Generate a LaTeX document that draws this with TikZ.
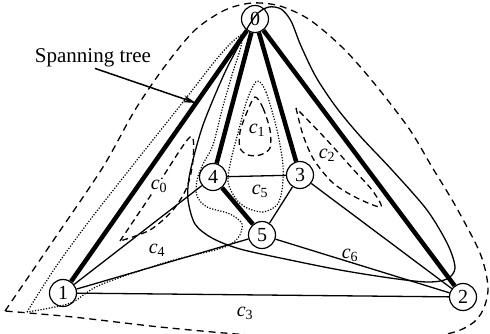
\documentclass[tikz,border=0pt]{standalone}
\usepackage{fontspec}
\setmainfont{Liberation Serif}
\usetikzlibrary{arrows.meta}
\begin{document}
\begin{tikzpicture}[x=1pt,y=-1pt,
  vtx/.style={circle,draw,line width=1.2pt,minimum size=27pt,inner sep=0pt,font=\fontsize{20}{20}\selectfont},
  tree/.style={line width=4.5pt},
  edge/.style={line width=1.3pt},
  cyc/.style={dash pattern=on 6pt off 4pt, line width=1.3pt},
  dots/.style={dash pattern=on 1.2pt off 1.6pt, line width=1.2pt},
  lbl/.style={font=\fontsize{20}{20}\selectfont, inner sep=1pt}]
\useasboundingbox (0,0) rectangle (490,333);
\clip (0,0) rectangle (490,333);

% vertices
\node[vtx] (n0) at (255,19) {0};
\node[vtx] (n1) at (63,293) {1};
\node[vtx] (n2) at (463,297) {2};
\node[vtx] (n3) at (300,175) {3};
\node[vtx] (n4) at (213,177) {4};
\node[vtx] (n5) at (262,235) {5};

% spanning tree edges
\draw[tree] (n0) -- (n1);
\draw[tree] (n0) -- (n4);
\draw[tree] (n0) -- (n3);
\draw[tree] (n0) -- (n2);
\draw[tree] (n4) -- (n5);

% other edges
\draw[edge] (n1) -- (n4);
\draw[edge] (n1) -- (n5);
\draw[edge] (n1) -- (n2);
\draw[edge] (n4) -- (n3);
\draw[edge] (n3) -- (n5);
\draw[edge] (n3) -- (n2);
\draw[edge] (n5) -- (n2);

% outer dashed curve
\draw[dash pattern=on 7pt off 5pt, line width=1.3pt] plot[smooth] coordinates {(5,311) (55,238) (103,167) (135,110) (165,66) (195,30) (225,10) (252,3) (280,6) (310,20) (345,50) (378,88) (410,130) (432,167) (455,205) (480,253) (488,287) (483,310) (470,325) (440,335) (350,340) (250,335) (160,327) (73,317) (5,311)};

% solid closed curve through vertex 0
\draw[edge] plot[smooth cycle] coordinates {(248,27) (258,13) (269,7) (281,9) (291,21) (301,46) (316,77) (336,107) (360,136) (392,170) (427,210) (448,245) (455,268) (447,279) (427,282) (390,278) (340,270) (290,260) (240,249) (212,238) (195,224) (188,200) (189,178) (195,152) (203,125) (215,95) (227,68) (239,45)};

% dotted curve on the left
\draw[dots] plot[smooth] coordinates {(27,312) (55,268) (90,220) (137,160) (187,97) (215,61) (232,42) (244,33)}
  -- plot[smooth] coordinates {(244,33) (240,50) (232,75) (222,110) (213,145) (203,164) (197,180) (197,196) (207,207) (230,214) (242,224) (238,238) (222,248) (167,262) (100,285) (73,302) (50,308) (27,312)};

% dotted curve round c1 and c5
\draw[dots] plot[smooth cycle] coordinates {(257,81) (266,92) (277,130) (283,165) (282,190) (277,205) (263,212) (247,208) (236,199) (228,182) (231,160) (238,133) (247,100)};

% dashed cycles
\draw[cyc] plot[smooth] coordinates {(120,241) (155,189) (190,137) (193,160) (187,187) (173,210) (150,230) (120,241)};
\draw[cyc] plot[smooth cycle] coordinates {(255,97) (263,108) (270,130) (270,148) (260,155) (248,155) (240,148) (240,132) (247,112)};
\draw[cyc] plot[smooth] coordinates {(296,108) (303,135) (314,160) (333,183) (357,198) (381,207) (372,190) (352,168) (325,138) (296,108)};

% cycle labels
\node[lbl,fill=white] (c0) at (159,186) {\textit{c}\textsubscript{0}};
\node[lbl] (c1) at (257,130) {\textit{c}\textsubscript{1}};
\node[lbl] (c2) at (327,155) {\textit{c}\textsubscript{2}};
\node[lbl] (c3) at (245,313) {\textit{c}\textsubscript{3}};
\node[lbl] (c4) at (157,250) {\textit{c}\textsubscript{4}};
\node[lbl] (c5) at (260,191) {\textit{c}\textsubscript{5}};
\node[lbl] (c6) at (350,255) {\textit{c}\textsubscript{6}};

% spanning tree label and arrow
\node[font=\fontsize{21}{21}\selectfont, inner sep=1pt] (st) at (93,58) {Spanning tree};
\coordinate (tip) at (196,103);
\draw[line width=1.5pt,-{Stealth[length=13pt,width=7pt]}] (st.south) ++(2,0) coordinate (ast) (ast) -- (tip);
\end{tikzpicture}
\end{document}
